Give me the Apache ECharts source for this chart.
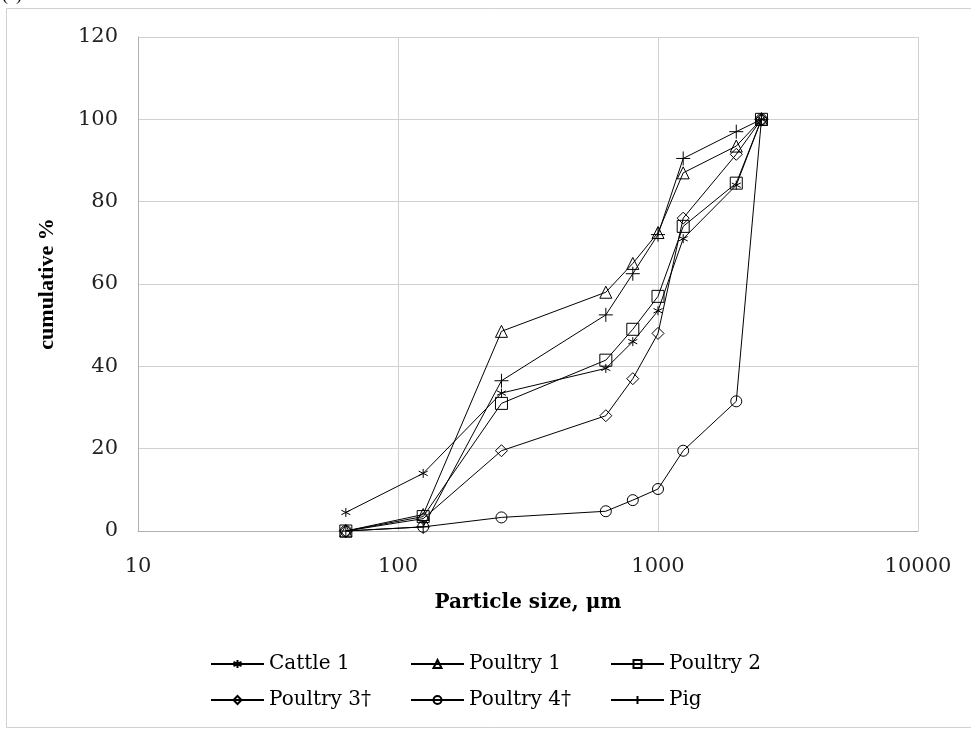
<!DOCTYPE html>
<html>
<head>
<meta charset="utf-8">
<script src="https://cdn.jsdelivr.net/npm/echarts@6/dist/echarts.min.js"></script>
<style>
  html, body { margin: 0; padding: 0; background: #fff; }
  #main { width: 971px; height: 731px; }
</style>
</head>
<body>
<div id="main"></div>
<script>
// particle size classes (µm)
var sizes = [63, 125, 250, 630, 800, 1000, 1250, 2000, 2500];

var cattle1  = [4.5, 14, 33.5, 39.5, 46, 53.5, 71, 84, 100];
var poultry1 = [0, 4, 48.5, 58, 65, 72.5, 87, 93.5, 100];
var poultry2 = [0, 3.5, 31, 41.5, 49, 57, 74, 84.5, 100];
var poultry3 = [0, 3, 19.5, 28, 37, 48, 76, 91.5, 100];
var poultry4 = [0, 1, 3.3, 4.8, 7.5, 10.2, 19.5, 31.5, 100];
var pig      = [0, 1, 36.5, 52.5, 62.5, 72, 90.5, 97, 100];

var names = ['Cattle 1', 'Poultry 1', 'Poultry 2', 'Poultry 3\u2020', 'Poultry 4\u2020', 'Pig'];
var values = [cattle1, poultry1, poultry2, poultry3, poultry4, pig];

var yTicks = [0, 20, 40, 60, 80, 100, 120];

// marker shapes
var asterisk = 'path://M5,0L5,10M0.7,2.5L9.3,7.5M0.7,7.5L9.3,2.5';
var plus = 'path://M5,0L5,10M0,5L10,5';
var symbols = [asterisk, 'triangle', 'rect', 'diamond', 'circle', plus];
var symSizes = [9, 12, 12, 12, 11, 14];

// the reference text is wide, DejaVu Serif matches its widths
var wide = '"DejaVu Serif", "Liberation Serif", serif';
var serif = '"Liberation Serif", "DejaVu Serif", serif';

var myChart = echarts.init(document.getElementById('main'));

var series = names.map(function (n, i) {
    return {
        name: n,
        type: 'line',
        data: sizes.map(function (s, j) { return [s, values[i][j]]; }),
        symbol: symbols[i],
        symbolSize: symSizes[i],
        showAllSymbol: true,
        lineStyle: { color: '#000', width: 1 },
        itemStyle: { color: 'rgba(255,255,255,0)', borderColor: '#000', borderWidth: 1 },
        emphasis: { disabled: true },
        animation: false
    };
});

// one legend per item so columns sit on fixed spacing
var legends = names.map(function (n, i) {
    return {
        data: [n],
        left: 205 + (i % 3) * 200,
        top: 649 + Math.floor(i / 3) * 36,
        itemWidth: 53,
        itemHeight: 10,
        itemGap: 3,
        textStyle: { fontFamily: wide, fontSize: 20, color: '#000' },
        selectedMode: false
    };
});

var option = {
    backgroundColor: '#fff',
    animation: false,
    grid: { left: 138, right: 53, top: 37, bottom: 200 },
    graphic: [
        {
            type: 'rect',
            shape: { x: 6.5, y: 8.5, width: 1000, height: 719 },
            style: { fill: 'none', stroke: '#d0d0d0', lineWidth: 1 }
        },
        {
            type: 'text',
            left: 2,
            top: -14,
            style: { text: '(a)', font: '18px ' + serif, fill: '#000' }
        }
    ],
    xAxis: {
        type: 'log',
        logBase: 10,
        min: 10,
        max: 10000,
        name: 'Particle size, \u03bcm',
        nameLocation: 'middle',
        nameGap: 62,
        nameTextStyle: { fontFamily: wide, fontSize: 20, fontWeight: 'bold', color: '#000' },
        axisLine: { lineStyle: { color: '#b0b0b0' } },
        axisTick: { show: false },
        minorTick: { show: false },
        splitLine: { show: true, lineStyle: { color: '#d0d0d0' } },
        axisLabel: {
            fontFamily: wide, fontSize: 21, color: '#222', margin: 25,
            formatter: function (v) { return String(Math.round(v)); }
        }
    },
    yAxis: {
        type: 'value',
        min: yTicks[0],
        max: yTicks[yTicks.length - 1],
        interval: 20,
        name: 'cumulative %',
        nameLocation: 'middle',
        nameGap: 80,
        nameTextStyle: { fontFamily: serif, fontSize: 22, fontWeight: 'bold', color: '#000' },
        axisLine: { show: true, lineStyle: { color: '#b0b0b0' } },
        axisTick: { show: false },
        splitLine: { show: true, lineStyle: { color: '#d0d0d0' } },
        axisLabel: { fontFamily: wide, fontSize: 21, color: '#222', margin: 20 }
    },
    legend: legends,
    series: series
};

myChart.setOption(option);
window.onresize = myChart.resize;
</script>
</body>
</html>
